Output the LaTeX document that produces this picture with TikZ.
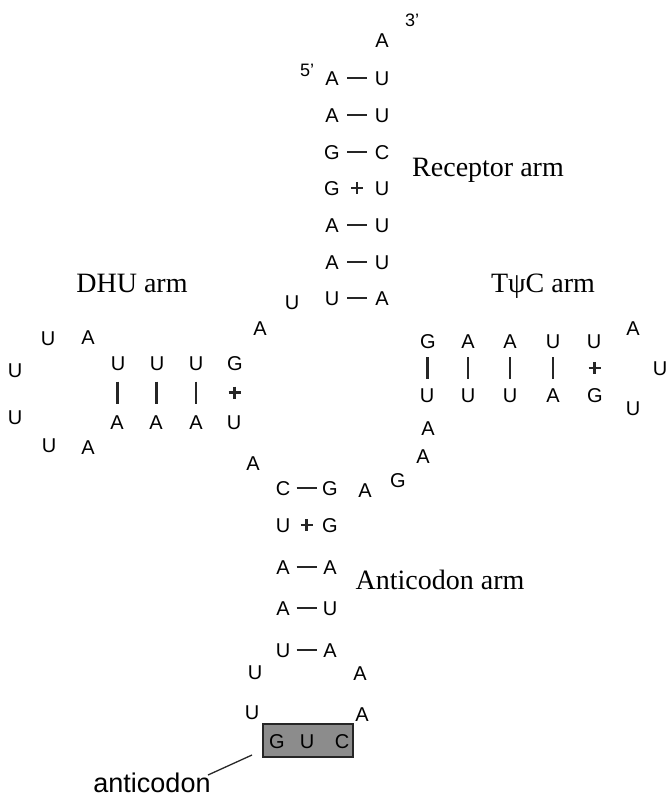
\documentclass[tikz,border=0pt]{standalone}
\usepackage{fontspec}
\setmainfont{Liberation Serif}
\setsansfont{Liberation Sans}
\usetikzlibrary{calc}
\newcommand\mkhb[2]{\draw[bond] ($(#1)!.5!(#2)$) ++(-10,0) -- ++(20,0);}
\newcommand\mkvb[2]{\draw[bond] ($(#1)!.5!(#2)$) ++(0,-11) -- ++(0,22);}
\newcommand\mkplus[2]{\draw[plusbond] ($(#1)!.5!(#2)$) ++(-6,0) -- ++(12,0) ($(#1)!.5!(#2)$) ++(0,-6) -- ++(0,12);}
\begin{document}
\begin{tikzpicture}[x=1pt,y=-1pt,
 nt/.style={font=\fontsize{20}{20}\selectfont\sffamily, inner sep=0pt, text height=14.3pt, text depth=0pt},
 endlbl/.style={font=\fontsize{18}{18}\selectfont\sffamily, inner sep=0pt, text height=12.9pt, text depth=0pt},
 armlbl/.style={font=\fontsize{28}{28}\selectfont, inner sep=0pt, text height=18.5pt, text depth=0pt},
 codlbl/.style={font=\fontsize{27}{27}\selectfont\sffamily, inner sep=0pt, text height=19.3pt, text depth=0pt},
 bond/.style={line width=2.5pt, draw=black!85},
 plusbond/.style={line width=2.8pt, draw=black!85},
 codbox/.style={draw=black!85, line width=1.5pt, fill=black!45},
 leader/.style={line width=1.3pt, draw=black!85}
 ]
\useasboundingbox[fill=white] (0,0) rectangle (670,799);

% ---------- Receptor arm ----------
\node[endlbl] (p3) at (412,20) {3'};
\node[endlbl] (p5) at (307,70) {5'};
\node[nt] (rA) at (382,40) {A};
\node[nt] (l1) at (332,78) {A};  \node[nt] (r1) at (382,78) {U};
\node[nt] (l2) at (332,115) {A}; \node[nt] (r2) at (382,115) {U};
\node[nt] (l3) at (332,152) {G}; \node[nt] (r3) at (382,152) {C};
\node[nt] (l4) at (332,188) {G}; \node[nt] (r4) at (382,188) {U};
\node[nt] (l5) at (332,225) {A}; \node[nt] (r5) at (382,225) {U};
\node[nt] (l6) at (332,262) {A}; \node[nt] (r6) at (382,262) {U};
\node[nt] (l7) at (332,298) {U}; \node[nt] (r7) at (382,298) {A};
\mkhb{l1}{r1}\mkhb{l2}{r2}\mkhb{l3}{r3}\mkplus{l4}{r4}
\mkhb{l5}{r5}\mkhb{l6}{r6}\mkhb{l7}{r7}
\node[armlbl] (reclbl) at (488,167) {Receptor arm};

% ---------- junction ----------
\node[nt] (jU) at (292,302) {U};
\node[nt] (jA) at (260,328) {A};

% ---------- DHU arm ----------
\node[armlbl] (dhulbl) at (132,283) {DHU arm};
\node[nt] (d1) at (118,363) {U}; \node[nt] (e1) at (117,422) {A};
\node[nt] (d2) at (157,363) {U}; \node[nt] (e2) at (156,422) {A};
\node[nt] (d3) at (196,363) {U}; \node[nt] (e3) at (196,422) {A};
\node[nt] (d4) at (235,363) {G}; \node[nt] (e4) at (234,422) {U};
\mkvb{d1}{e1}\mkvb{d2}{e2}\mkvb{d3}{e3}\mkplus{d4}{e4}
\node[nt] (dl1) at (88,337) {A};
\node[nt] (dl2) at (48,338) {U};
\node[nt] (dl3) at (15,370) {U};
\node[nt] (dl4) at (15,417) {U};
\node[nt] (dl5) at (49,445) {U};
\node[nt] (dl6) at (88,447) {A};
\node[nt] (jA2) at (253,463) {A};

% ---------- TpsiC arm ----------
\node[armlbl] (tlbl) at (543,283) {TψC arm};
\node[nt] (t1) at (428,341) {G}; \node[nt] (b1) at (427,395) {U};
\node[nt] (t2) at (468,341) {A}; \node[nt] (b2) at (468,395) {U};
\node[nt] (t3) at (510,341) {A}; \node[nt] (b3) at (510,395) {U};
\node[nt] (t4) at (553,341) {U}; \node[nt] (b4) at (553,395) {A};
\node[nt] (t5) at (594,341) {U}; \node[nt] (b5) at (595,395) {G};
\mkvb{t1}{b1}\mkvb{t2}{b2}\mkvb{t3}{b3}\mkvb{t4}{b4}\mkplus{t5}{b5}
\node[nt] (tl1) at (633,328) {A};
\node[nt] (tl2) at (660,368) {U};
\node[nt] (tl3) at (633,408) {U};

% ---------- variable loop ----------
\node[nt] (v1) at (428,428) {A};
\node[nt] (v2) at (423,456) {A};
\node[nt] (v3) at (398,480) {G};
\node[nt] (v4) at (365,490) {A};

% ---------- Anticodon arm ----------
\node[nt] (a1) at (283,488) {C}; \node[nt] (c1) at (330,488) {G};
\node[nt] (a2) at (283,525) {U}; \node[nt] (c2) at (330,525) {G};
\node[nt] (a3) at (283,567) {A}; \node[nt] (c3) at (330,567) {A};
\node[nt] (a4) at (283,608) {A}; \node[nt] (c4) at (330,608) {U};
\node[nt] (a5) at (283,650) {U}; \node[nt] (c5) at (330,650) {A};
\mkhb{a1}{c1}\mkplus{a2}{c2}\mkhb{a3}{c3}\mkhb{a4}{c4}\mkhb{a5}{c5}
\node[armlbl] (alabel) at (440,580) {Anticodon arm};
\node[nt] (al1) at (255,672) {U};
\node[nt] (al2) at (252,712) {U};
\node[nt] (ar1) at (360,673) {A};
\node[nt] (ar2) at (362,714) {A};

% ---------- anticodon box ----------
\draw[codbox] (263,724) rectangle (353,757);
\node[nt] (cG) at (277,741) {G};
\node[nt] (cU) at (307,741) {U};
\node[nt] (cC) at (342,741) {C};
\coordinate (boxcorner) at (252,755);
\node[codlbl] (codlbl) at (152,783) {anticodon};
\coordinate (leadend) at (208,775);
\draw[leader] (boxcorner) -- (leadend);
\end{tikzpicture}
\end{document}
